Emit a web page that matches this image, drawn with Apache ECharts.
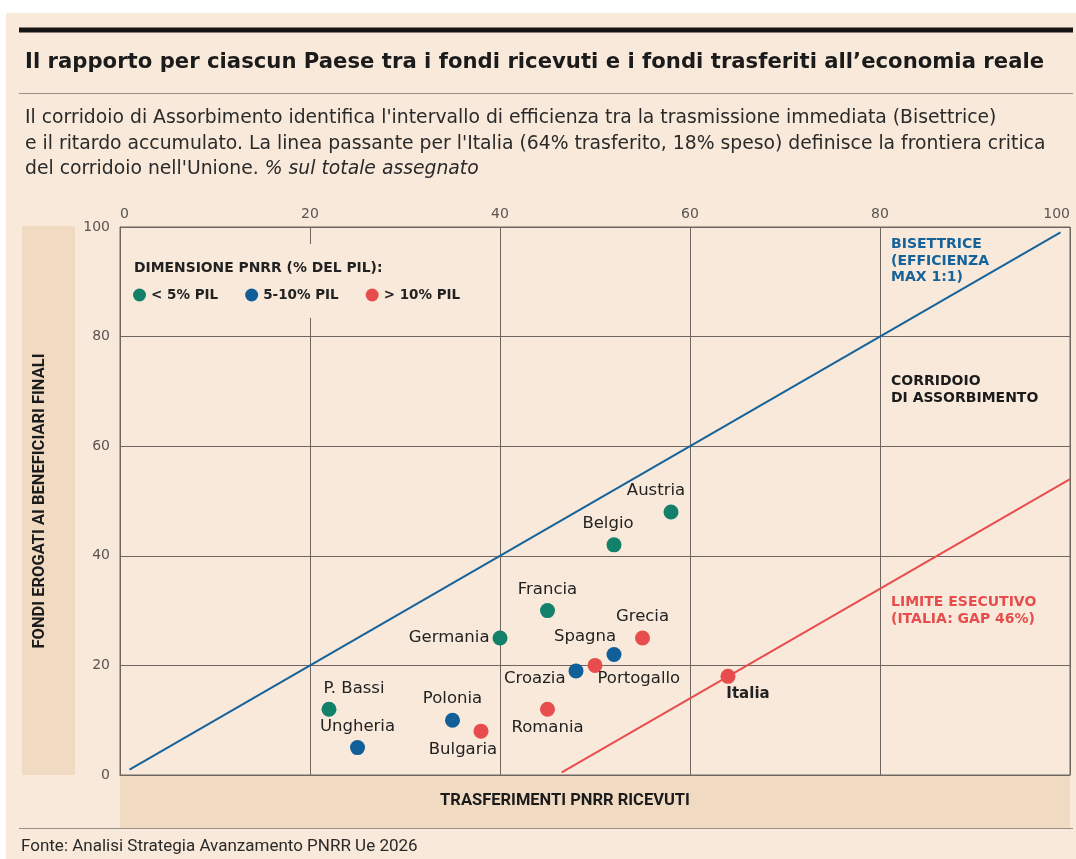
<!DOCTYPE html>
<html><head><meta charset="utf-8">
<script src="https://cdn.jsdelivr.net/npm/echarts@6/dist/echarts.min.js"></script>
<style>html,body{margin:0;padding:0;background:#fff;}#c{width:1076px;height:859px;}</style>
</head><body><div id="c"></div>
<script>
// ---- DATA ----
const countries   = ['Austria','Belgio','Francia','Germania','Grecia','Spagna','Portogallo','Croazia','Italia','Romania','P. Bassi','Polonia','Bulgaria','Ungheria'];
const transferred = [58, 52, 45, 40, 55, 52, 50, 48, 64, 45, 22, 35, 38, 25];   // % trasferimenti ricevuti
const disbursed   = [48, 42, 30, 25, 25, 22, 20, 19, 18, 12, 12, 10, 8, 5];     // % fondi erogati
const pnrrGroup   = ['g1','g1','g1','g1','g3','g2','g3','g2','g3','g3','g1','g2','g3','g2'];
const groupKeys   = ['g1','g2','g3'];
const groupNames  = ['< 5% PIL','5-10% PIL','> 10% PIL'];
const bisectorLine = [[1, 1], [99, 99]];
const limitLine    = [[46.5, 0.5], [100, 54]];
const axisTicks    = [0, 20, 40, 60, 80, 100];

// ---- STYLE / LAYOUT ----
const BG = '#f8e9da', BAND = '#f0dac2', GRID = '#6e6660';
const groupColors = ['#13806a', '#105f98', '#e84d4d'];
const BLUE = '#15639a', RED = '#e84d4d';
const FONT = 'DejaVu Sans';
const labelLayout = {
  'Austria':   {position:'top', offset:[-15,0]},
  'Belgio':    {position:'top', offset:[-6,0]},
  'Francia':   {position:'top', offset:[0,0]},
  'Germania':  {position:'left', offset:[2,0]},
  'Grecia':    {position:'top', offset:[0,0]},
  'Spagna':    {position:'top', offset:[-29,3]},
  'Portogallo':{position:'right', offset:[-10,13]},
  'Croazia':   {position:'left', offset:[2,8]},
  'Italia':    {position:'bottom', offset:[20,-2], bold:true},
  'Romania':   {position:'bottom', offset:[0,-3]},
  'P. Bassi':  {position:'top', offset:[25,0]},
  'Polonia':   {position:'top', offset:[0,0]},
  'Bulgaria':  {position:'bottom', offset:[-18,-2]},
  'Ungheria':  {position:'top', offset:[0,0]}
};

const scatterSeries = groupKeys.map((g, gi) => ({
  name: groupNames[gi],
  type: 'scatter',
  symbolSize: 15,
  z: 5,
  itemStyle: {color: groupColors[gi], opacity: 1},
  data: countries.map((c, i) => ({c, i})).filter(o => pnrrGroup[o.i] === g).map(o => {
    const L = labelLayout[o.c];
    return {
      name: o.c,
      value: [transferred[o.i], disbursed[o.i]],
      label: {show: true, formatter: o.c, position: L.position, offset: L.offset, distance: 5,
        fontFamily: FONT, fontSize: L.bold ? 15 : 16.5, color: '#222', fontWeight: L.bold ? 'bold' : 'normal'}
    };
  })
}));

const chart = echarts.init(document.getElementById('c'), null, {renderer: 'canvas'});
chart.setOption({
  backgroundColor: '#ffffff',
  animation: false,
  textStyle: {fontFamily: FONT},
  title: [
    {text: "Il rapporto per ciascun Paese tra i fondi ricevuti e i fondi trasferiti all\u2019economia reale",
     left: 20, top: 47, textStyle: {fontFamily: FONT, fontSize: 21.2, fontWeight: 'bold', color: '#1b1b1b'}},
    {text: "{n|Il corridoio di Assorbimento identifica l'intervallo di efficienza tra la trasmissione immediata (Bisettrice)}\n" +
           "{n|e il ritardo accumulato. La linea passante per l'Italia (64% trasferito, 18% speso) definisce la frontiera critica}\n" +
           "{n|del corridoio nell'Unione. }{i|% sul totale assegnato}",
     left: 20, top: 100.5,
     textStyle: {fontWeight: 'normal', rich: {
       n: {fontFamily: FONT, fontSize: 18.8, fontWeight: 'normal', color: '#2a2a2a', lineHeight: 25.5},
       i: {fontFamily: FONT, fontSize: 18.8, fontWeight: 'normal', color: '#2a2a2a', lineHeight: 25.5, fontStyle: 'italic'}
     }}}
  ],
  grid: {left: 120, right: 6, top: 227, bottom: 84, show: true, borderColor: GRID, borderWidth: 1, backgroundColor: 'transparent', containLabel: false},
  legend: {
    data: groupNames, left: 133, top: 288, padding: 0, icon: 'circle', itemWidth: 13, itemHeight: 13, itemGap: 27,
    textStyle: {fontFamily: FONT, fontSize: 13.5, fontWeight: 'bold', color: '#222'}, selectedMode: false, z: 10
  },
  xAxis: {
    type: 'value', position: 'top', min: axisTicks[0], max: axisTicks[axisTicks.length-1], interval: 20,
    axisLine: {show: true, lineStyle: {color: GRID, width: 1}},
    axisTick: {show: false},
    splitLine: {show: true, lineStyle: {color: GRID, width: 1}},
    axisLabel: {color: '#5a5450', fontSize: 14, fontFamily: FONT, margin: 6, alignMinLabel: 'left', alignMaxLabel: 'right'}
  },
  yAxis: {
    type: 'value', min: axisTicks[0], max: axisTicks[axisTicks.length-1], interval: 20,
    name: 'FONDI EROGATI AI BENEFICIARI FINALI', nameLocation: 'middle', nameRotate: 90, nameGap: 72,
    nameTextStyle: {fontFamily: 'Roboto', fontSize: 16.5, fontWeight: 'bold', color: '#1b1b1b'},
    axisLine: {show: true, lineStyle: {color: GRID, width: 1}},
    axisTick: {show: false},
    splitLine: {show: true, lineStyle: {color: GRID, width: 1}},
    axisLabel: {color: '#5a5450', fontSize: 14, fontFamily: FONT, margin: 10}
  },
  graphic: [
    {type: 'rect', z: -100, shape: {x: 6, y: 13, width: 1070, height: 846}, style: {fill: BG}, silent: true},
    {type: 'rect', z: -90, shape: {x: 22, y: 226, width: 53, height: 549}, style: {fill: BAND}, silent: true},
    {type: 'rect', z: -90, shape: {x: 120, y: 775, width: 950, height: 53}, style: {fill: BAND}, silent: true},
    {type: 'rect', z: 1, shape: {x: 125, y: 244, width: 368, height: 74}, style: {fill: BG}, silent: true},
    {type: 'line', shape: {x1: 19, y1: 30, x2: 1073, y2: 30}, style: {stroke: '#151515', lineWidth: 5}},
    {type: 'line', shape: {x1: 19, y1: 93.5, x2: 1073, y2: 93.5}, style: {stroke: '#9a8f86', lineWidth: 1.2}},
    {type: 'line', shape: {x1: 19, y1: 828.5, x2: 1073, y2: 828.5}, style: {stroke: '#9a8f86', lineWidth: 1.2}},
    {type: 'text', x: 134, y: 268, style: {text: 'DIMENSIONE PNRR (% DEL PIL):', font: 'bold 13.9px "DejaVu Sans"', fill: '#222', textVerticalAlign: 'middle'}, z: 10},
    {type: 'text', x: 891, y: 236.5, style: {text: 'BISETTRICE\n(EFFICIENZA\nMAX 1:1)', font: 'bold 14px "DejaVu Sans"', fill: BLUE, lineHeight: 16.5}, z: 10},
    {type: 'text', x: 891, y: 373.5, style: {text: 'CORRIDOIO\nDI ASSORBIMENTO', font: 'bold 14px "DejaVu Sans"', fill: '#1b1b1b', lineHeight: 16.5}, z: 10},
    {type: 'text', x: 891, y: 594.5, style: {text: 'LIMITE ESECUTIVO\n(ITALIA: GAP 46%)', font: 'bold 14px "DejaVu Sans"', fill: RED, lineHeight: 16.5}, z: 10},
    {type: 'text', x: 565, y: 801, style: {text: 'TRASFERIMENTI PNRR RICEVUTI', font: 'bold 16.5px Roboto', fill: '#1b1b1b', textAlign: 'center', textVerticalAlign: 'middle'}, z: 10},
    {type: 'text', x: 21, y: 847, style: {text: 'Fonte: Analisi Strategia Avanzamento PNRR Ue 2026', font: '17px Roboto', fill: '#2a2a2a', textVerticalAlign: 'middle'}, z: 10}
  ],
  series: [
    {name: 'Bisettrice', type: 'line', data: bisectorLine, showSymbol: false, symbol: 'none', z: 3,
     lineStyle: {color: BLUE, width: 2}, silent: true},
    {name: 'Limite', type: 'line', data: limitLine, showSymbol: false, symbol: 'none', z: 3,
     lineStyle: {color: RED, width: 2}, silent: true}
  ].concat(scatterSeries)
});
</script></body></html>
